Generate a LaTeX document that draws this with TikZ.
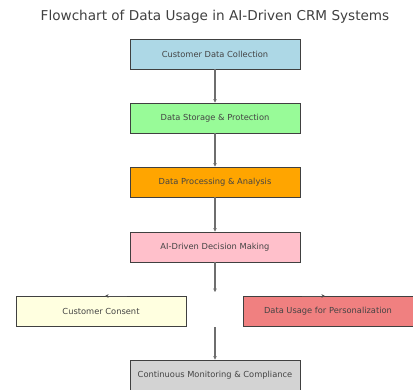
\documentclass[tikz,border=0pt]{standalone}
\usepackage{fontspec}
\setmainfont{DejaVu Sans}
\usetikzlibrary{arrows.meta}
\definecolor{cblue}{HTML}{ADD8E6}
\definecolor{cgreen}{HTML}{98FB98}
\definecolor{corange}{HTML}{FFA500}
\definecolor{cpink}{HTML}{FFC0CB}
\definecolor{cyellow}{HTML}{FFFFE0}
\definecolor{ccoral}{HTML}{F08080}
\definecolor{cgrey}{HTML}{D3D3D3}
\definecolor{ctext}{HTML}{444444}
\definecolor{carrow}{HTML}{6E6E6E}
\begin{document}
\begin{tikzpicture}[x=1pt,y=1pt,
  flowbox/.style={draw=black!75, line width=0.8pt, minimum width=170pt, minimum height=30pt,
    inner sep=0pt, font=\fontsize{8.3}{10}\selectfont, text=ctext},
  conn/.style={draw=carrow, line width=1.1pt, -{Stealth[length=3.5pt,width=3.5pt]}},
  side/.style={draw=black!70, line width=0.8pt, -{Stealth[length=3.5pt,width=3.5pt]}}]
\useasboundingbox (0,0) rectangle (413,-389);
\node[font=\fontsize{13.6}{16}\selectfont, text=black!75] (title) at (215,-17) {Flowchart of Data Usage in AI-Driven CRM Systems};
\node[flowbox, fill=cblue]   (n1) at (215,-54)  {Customer Data Collection};
\node[flowbox, fill=cgreen]  (n2) at (215,-118) {Data Storage \& Protection};
\node[flowbox, fill=corange] (n3) at (215,-182) {Data Processing \& Analysis};
\node[flowbox, fill=cpink]   (n4) at (215,-247) {AI-Driven Decision Making};
\node[flowbox, fill=cyellow] (n5) at (101,-311) {Customer Consent};
\node[flowbox, fill=ccoral]  (n6) at (328,-311) {Data Usage for Personalization};
\node[flowbox, fill=cgrey]   (n7) at (215,-375) {Continuous Monitoring \& Compliance};
\coordinate (m1) at (215,-292);
\coordinate (m2) at (215,-327);
\coordinate (l1) at (127,-296);
\coordinate (l2) at (105,-296);
\coordinate (r1) at (302,-296);
\coordinate (r2) at (325,-296);
\draw[conn] (n1) -- (n2);
\draw[conn] (n2) -- (n3);
\draw[conn] (n3) -- (n4);
\draw[conn] (n4) -- (m1);
\draw[conn] (m2) -- (n7);
\draw[side] (l1) -- (l2);
\draw[side] (r1) -- (r2);
\end{tikzpicture}
\end{document}
